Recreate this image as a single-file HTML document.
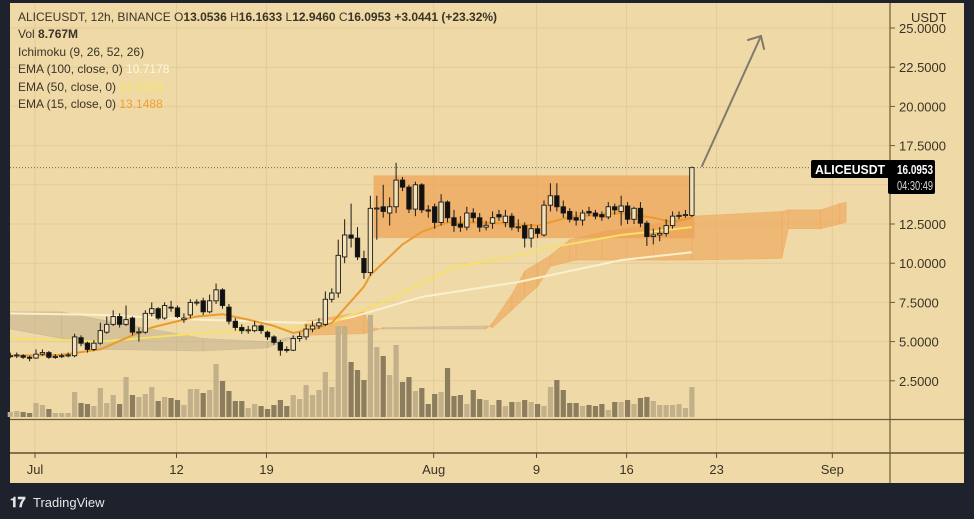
<!DOCTYPE html>
<html><head><meta charset="utf-8">
<style>
html,body{margin:0;padding:0;background:#1e222d;width:974px;height:519px;overflow:hidden;font-family:"Liberation Sans",sans-serif;}
svg{display:block}
</style></head>
<body>
<svg id="chart" width="974" height="519" viewBox="0 0 974 519" xmlns="http://www.w3.org/2000/svg">
  <rect x="0" y="0" width="974" height="519" fill="#1e222d"/>
  <rect x="10" y="3" width="954" height="480" fill="#efd9a7"/>
  <g id="grid"></g>
  <g id="cloud"></g>
  <g id="box"></g>
  <g id="vol"></g>
  <g id="emas"></g>
  <g id="candles"></g>
  <g id="axes"></g>
  <g font-size="12" fill="#3a3426">
    <text x="18" y="21">ALICEUSDT, 12h, BINANCE  O<tspan font-weight="bold">13.0536</tspan>  H<tspan font-weight="bold">16.1633</tspan>  L<tspan font-weight="bold">12.9460</tspan>  C<tspan font-weight="bold">16.0953</tspan>  <tspan font-weight="bold">+3.0441 (+23.32%)</tspan></text>
    <text x="18" y="38">Vol  <tspan font-weight="bold">8.767M</tspan></text>
    <text x="18" y="56">Ichimoku (9, 26, 52, 26)</text>
    <text x="18" y="73">EMA (100, close, 0)  <tspan fill="#fff6dc">10.7178</tspan></text>
    <text x="18" y="91">EMA (50, close, 0)  <tspan fill="#f8e860">12.2123</tspan></text>
    <text x="18" y="108">EMA (15, close, 0)  <tspan fill="#f0a030">13.1488</tspan></text>
  </g>
  <g stroke="#7f7a6c" stroke-width="2" fill="none" stroke-linecap="round">
    <line x1="702" y1="166" x2="761" y2="36"/>
    <polyline points="748,40 761,36 764,49"/>
  </g>
  <g id="lastlabel">
    <rect x="811" y="160" width="79" height="18" rx="2" fill="#000"/>
    <rect x="888" y="160" width="47" height="34" rx="2" fill="#000"/>
    <text x="815" y="174" fill="#fff" font-size="13" font-weight="bold" textLength="70" lengthAdjust="spacingAndGlyphs">ALICEUSDT</text>
    <text x="897" y="174" fill="#fff" font-size="13" font-weight="bold" textLength="36" lengthAdjust="spacingAndGlyphs">16.0953</text>
    <text x="897" y="190" fill="#d8d8d8" font-size="13" textLength="36" lengthAdjust="spacingAndGlyphs">04:30:49</text>
  </g>
  <g>
    <text x="10" y="507" fill="#e6e6e6" font-size="14" font-weight="bold">𝟏𝟕</text>
    <text x="33" y="507" fill="#e6e6e6" font-size="13">TradingView</text>
  </g>
</svg>
<script>
// ---- data ----
const opens  = [4.05,4.1,4.1,4.0,3.95,4.2,4.3,4.0,4.05,4.1,4.1,5.25,4.9,4.5,4.9,5.6,6.1,6.6,6.1,6.5,5.6,5.6,6.8,7.1,6.5,7.2,7.15,6.4,6.7,7.5,7.6,6.9,7.6,8.3,7.2,6.3,5.9,5.7,5.7,6.0,5.6,5.3,4.95,4.5,4.45,5.2,5.3,5.8,6.0,6.1,7.7,8.1,10.4,11.8,11.6,10.3,9.4,13.5,13.6,13.2,13.6,15.3,14.85,13.45,15.0,13.4,13.6,12.6,13.9,12.9,12.5,12.3,13.2,12.9,12.3,12.55,13.1,12.6,13.0,12.3,12.4,11.6,12.2,11.8,13.7,14.3,13.6,13.3,12.9,12.75,13.3,13.2,13.1,12.95,13.6,13.3,13.65,12.8,13.5,12.55,11.7,11.8,11.9,12.4,13.0,13.05,13.05];
const closes = [4.1,4.15,4.0,3.95,4.2,4.3,4.0,4.05,4.1,4.15,5.3,4.9,4.5,4.9,5.7,6.1,6.6,6.1,6.4,5.6,5.62,6.8,7.1,6.5,7.3,7.15,6.6,6.5,7.5,7.52,6.9,7.6,8.3,7.3,6.3,5.9,5.7,5.75,6.0,5.7,5.3,4.95,4.45,4.47,5.2,5.32,5.8,6.0,6.2,7.7,8.1,10.5,11.8,11.6,10.4,9.4,13.5,13.52,13.3,13.6,15.3,14.85,13.45,15.0,13.4,13.32,12.6,13.9,12.9,12.4,12.3,13.2,12.9,12.3,12.42,12.9,12.95,13.0,12.3,12.32,11.6,12.2,11.9,13.7,14.3,13.6,13.2,12.8,12.75,13.2,13.2,13.0,12.95,13.6,13.4,13.65,12.8,13.5,12.55,11.7,11.8,11.9,12.4,13.0,13.05,13.1,16.0953];
const highs  = [4.3,4.3,4.2,4.1,4.5,4.5,4.4,4.2,4.25,4.3,5.5,5.4,5.0,5.1,6.2,6.6,7.0,6.8,7.3,6.6,5.9,7.0,7.5,7.2,7.5,7.6,7.3,6.8,7.7,7.7,7.8,8.0,8.7,8.4,7.4,6.5,6.1,6.0,6.3,6.1,5.7,5.4,5.1,4.7,5.4,5.6,6.1,6.3,6.5,8.2,8.4,11.5,12.8,13.8,12.3,10.8,14.3,14.3,15.0,14.2,16.4,15.5,15.0,15.2,15.1,13.7,13.8,14.4,14.0,13.4,13.0,13.6,13.5,13.2,12.7,13.3,13.4,13.4,13.2,12.8,12.6,12.5,12.4,14.0,15.1,15.1,14.0,13.5,13.3,13.4,13.6,13.4,13.3,13.9,13.8,14.3,13.9,13.6,13.9,12.7,12.2,12.3,12.8,13.3,13.3,13.4,16.1633];
const lows   = [3.95,3.95,3.9,3.75,3.9,4.1,3.9,3.9,3.95,4.0,4.0,4.7,4.3,4.4,4.8,5.5,6.0,5.9,6.0,5.4,5.0,5.5,6.6,6.4,6.4,6.9,6.5,6.2,6.5,7.3,6.7,6.8,7.4,7.1,6.1,5.7,5.5,5.5,5.6,5.5,5.1,4.8,4.1,4.3,4.4,5.0,5.1,5.6,5.8,6.0,7.5,7.8,10.0,11.0,10.2,9.0,9.2,11.5,12.9,12.4,13.2,14.6,13.2,13.0,13.2,12.9,12.2,12.4,12.6,12.0,12.0,12.1,12.6,12.0,12.1,12.2,12.7,12.3,12.1,12.0,11.0,11.0,11.6,11.7,13.3,13.3,12.9,12.6,12.4,12.4,13.0,12.8,12.7,12.8,13.1,12.4,12.5,12.5,12.3,11.1,11.2,11.4,11.7,12.2,12.8,12.9,12.946];
const volumes = [5,6,5,4,14,12,8,4,4,4,25,14,13,11,29,14,22,13,40,22,20,23,30,16,20,19,17,12,28,28,24,27,53,36,26,16,16,9,13,11,8,12,17,11,22,18,32,22,27,45,30,91,91,55,47,37,102,70,61,42,72,35,40,26,29,13,23,25,49,21,22,13,27,18,17,12,17,11,15,15,17,15,13,11,30,37,27,14,14,11,12,11,13,7,15,15,17,13,19,20,16,12,12,12,13,9,30];
// EMA series (sparse: candle index -> value)
const ema15Idx = [0,8,14,19,22,29,33,37,41,44,48,50,55,56,61,64,68,72,76,82,87,95,100,103,106];
const ema15Val = [4.1,4.15,4.5,5.4,5.9,6.6,6.75,6.4,6.0,5.55,5.9,6.2,8.5,9.25,11.2,12.0,12.6,12.6,12.55,12.4,12.95,13.2,12.9,12.6,12.9];
const ema50Idx = [0,8,14,30,45,48,58,69,79,84,95,106];
const ema50Val = [5.2,5.1,5.0,5.55,5.9,5.9,7.5,9.75,10.5,11.0,11.8,12.3];
const ema100Idx = [0,14,29,45,50,53,64,79,95,106];
const ema100Val = [6.8,6.7,6.4,6.2,6.3,6.55,7.85,8.8,10.2,10.7];
// Ichimoku cloud (index may exceed last candle: displaced forward)
const cloudIdx = [0,8,14,30,40,45,46,55,56,58,74,75,78,80,82,84,87,88,92,100,106,120,121,126,129,130];
const spanA    = [5.8,5.2,4.5,4.4,4.6,5.4,6.3,6.9,5.9,5.8,5.8,6.2,8.0,9.5,10.0,10.5,11.5,11.6,12.0,12.5,13.0,13.3,13.4,13.4,13.8,13.9];
const spanB    = [6.9,6.9,6.4,5.2,5.0,5.4,5.4,5.5,5.6,5.9,6.0,5.9,7.0,7.8,8.5,9.8,10.1,10.2,10.2,10.2,10.2,10.3,12.2,12.2,12.5,12.6];
const boxIdx = [56.5,106.4];
const boxPrice = [15.6,11.6];
const priceTicks = [2.5,5,7.5,10,12.5,15,17.5,20,22.5,25];
const priceTickLabels = ["2.5000","5.0000","7.5000","10.0000","12.5000","15.0000","17.5000","20.0000","22.5000","25.0000"];
const dateDays = [0,11,18,31,39,46,53,62];
const dateLabels = ["Jul","12","19","Aug","9","16","23","Sep"];
const lastPrice = 16.0953;

// ---- scales ----
const NS="http://www.w3.org/2000/svg";
const yP = p => 420 - 15.68*p;
const xI = i => 10.3 + 6.43*i;
const xD = d => 35 + 12.86*d;
const volBase = 417, volScale = 1.0;
function mk(tag, attrs, parent){const e=document.createElementNS(NS,tag);for(const k in attrs)e.setAttribute(k,attrs[k]);parent.appendChild(e);return e;}

// grid
const grid=document.getElementById('grid');
priceTicks.forEach(p=>{const l=mk('line',{x1:10,x2:890,y1:yP(p),y2:yP(p),stroke:'#e4cc98','stroke-width':1},grid);

});
dateDays.forEach(d=>{const l=mk('line',{x1:xD(d),x2:xD(d),y1:3,y2:453,stroke:'#e4cc98','stroke-width':1},grid);

});

// cloud
const cloud=document.getElementById('cloud');
for(let k=0;k<cloudIdx.length-1;k++){
  const bull=(spanA[k]+spanA[k+1])>=(spanB[k]+spanB[k+1]);
  const pts=[[xI(cloudIdx[k]),yP(spanA[k])],[xI(cloudIdx[k+1]),yP(spanA[k+1])],[xI(cloudIdx[k+1]),yP(spanB[k+1])],[xI(cloudIdx[k]),yP(spanB[k])]];
  const poly=mk('polygon',{points:pts.map(p=>p.join(',')).join(' '),fill:bull?'#eeaa60':'#b8a98a','fill-opacity':bull?0.7:0.45,stroke:bull?'#eeaa60':'#b8a98a','stroke-opacity':bull?0.7:0.45,'stroke-width':0.6},cloud);
  
  
}

// box
const boxEl=mk('rect',{x:xI(boxIdx[0]),y:yP(boxPrice[0]),width:xI(boxIdx[1])-xI(boxIdx[0]),height:yP(boxPrice[1])-yP(boxPrice[0]),fill:'#eea256','fill-opacity':0.72},document.getElementById('box'));



// volume
const vol=document.getElementById('vol');
volumes.forEach((v,i)=>{
  const up=closes[i]>=opens[i];
  const r=mk('rect',{x:xI(i)-2.6,y:volBase-v*volScale,width:5.2,height:v*volScale,fill:up?'#c2b08a':'#8c7d5e'},vol);
  
  
});

// emas
const emas=document.getElementById('emas');
function drawLine(idx,val,color,w,name){
  const d=idx.map((ix,k)=>(k?'L':'M')+xI(ix).toFixed(1)+','+yP(val[k]).toFixed(1)).join(' ');
  const p=mk('path',{d:d,fill:'none',stroke:color,'stroke-width':w,'stroke-linejoin':'round'},emas);
  
  
}
drawLine(ema100Idx,ema100Val,'#fbf0cc',2,'ema100-line');
drawLine(ema50Idx,ema50Val,'#f6df6a',2,'ema50-line');
drawLine(ema15Idx,ema15Val,'#eb9a2e',2,'ema15-line');

// candles
const cg=document.getElementById('candles');
opens.forEach((o,i)=>{
  const c=closes[i],up=c>=o,x=xI(i);
  const w=mk('line',{x1:x,x2:x,y1:yP(highs[i]),y2:yP(lows[i]),stroke:'#1a1a1a','stroke-width':1},cg);
  
  
  const top=yP(Math.max(o,c)),h=Math.max(1,yP(Math.min(o,c))-top);
  const b=mk('rect',{x:x-2.2,y:top,width:4.4,height:h,fill:up?'#f3e2b8':'#111',stroke:'#1a1a1a','stroke-width':0.9},cg);
  
  
});

// axes
const ax=document.getElementById('axes');
const lastLine=mk('line',{x1:10,x2:890,y1:yP(lastPrice),y2:yP(lastPrice),stroke:'#6e6a5e','stroke-width':1,'stroke-dasharray':'1,2'},ax);


const l1=mk('line',{x1:10,x2:964,y1:419.5,y2:419.5,stroke:'#6d5c3a','stroke-width':1.2},ax);


const l2=mk('line',{x1:10,x2:964,y1:453,y2:453,stroke:'#5e4e30','stroke-width':1.5},ax);


const l3=mk('line',{x1:890,x2:890,y1:3,y2:483,stroke:'#6d5c3a','stroke-width':1.2},ax);


priceTicks.forEach((p,k)=>{
  const t=mk('line',{x1:890,x2:895,y1:yP(p),y2:yP(p),stroke:'#6d5c3a'},ax);
  
  
  if(p<lastPrice && yP(p)-yP(lastPrice)<20) return; // hidden behind last-price label
  const tx=mk('text',{x:899,y:yP(p)+5,'font-size':13,fill:'#3a3426'},ax);
  tx.textContent=priceTickLabels[k];
  
  
});
const bg=mk('rect',{x:900,y:8,width:50,height:16,fill:'#efd9a7'},ax);


const ut=mk('text',{x:911,y:22,'font-size':13,fill:'#3a3426'},ax);
ut.textContent='USDT';


dateDays.forEach((d,k)=>{
  const t=mk('line',{x1:xD(d),x2:xD(d),y1:453,y2:458,stroke:'#5e4e30'},ax);
  
  
  const tx=mk('text',{x:xD(d),y:474,'font-size':13,fill:'#3a3426','text-anchor':'middle'},ax);
  tx.textContent=dateLabels[k];
  
  
});
document.getElementById('chart').appendChild(document.getElementById('lastlabel'));
</script>
</body></html>
